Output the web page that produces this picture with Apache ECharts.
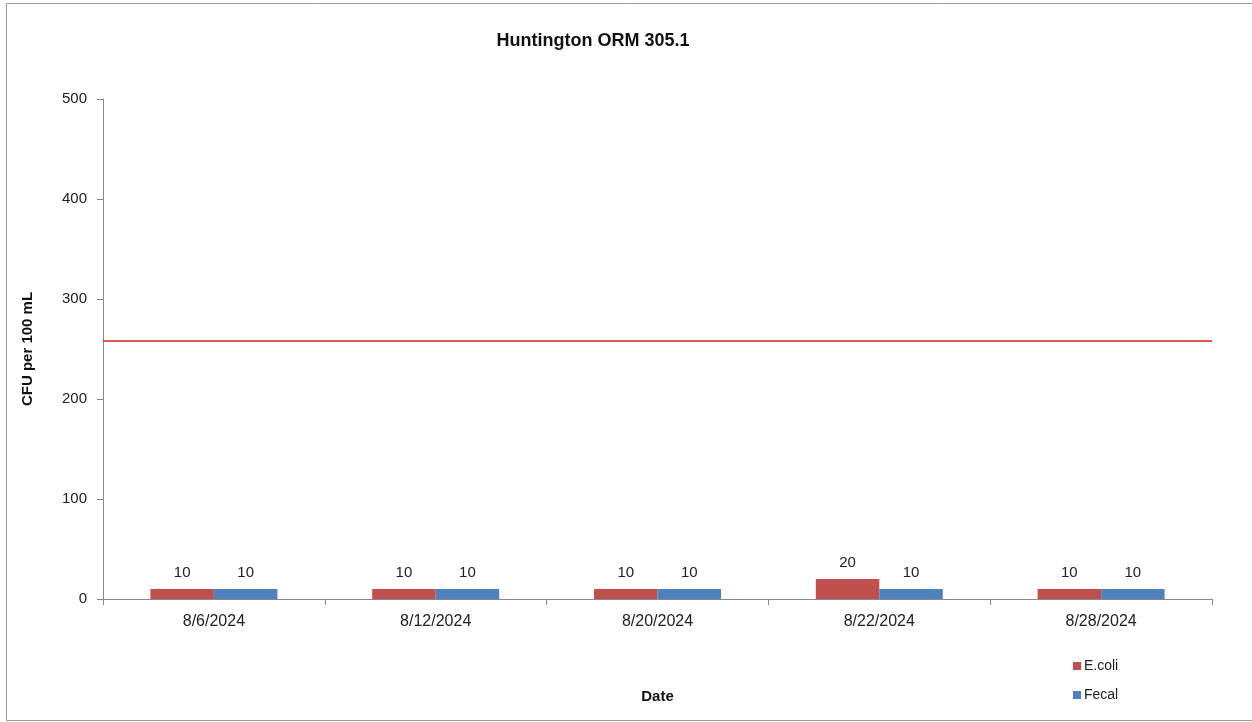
<!DOCTYPE html>
<html>
<head>
<meta charset="utf-8">
<script src="https://cdn.jsdelivr.net/npm/echarts@6/dist/echarts.min.js"></script>
<style>
  html, body { margin: 0; padding: 0; background: #fff; }
  #chart { width: 1252px; height: 722px; }
</style>
</head>
<body>
<div id="chart"></div>
<script>
// sample dates and counts (CFU per 100 mL)
const dates = ['8/6/2024', '8/12/2024', '8/20/2024', '8/22/2024', '8/28/2024'];
const ecoli = [10, 10, 10, 20, 10];
const fecal = [10, 10, 10, 10, 10];
const limit = 258;
const yTicks = { min: 0, max: 500, interval: 100 };

const font = 'Liberation Sans, Arial, sans-serif';
const txt = '#222';
const limitColor = '#D42020';

let chart = echarts.init(document.getElementById('chart'));

let labelOpt = {
    show: true,
    position: 'top',
    distance: 9,
    color: txt,
    fontFamily: font,
    fontSize: 15
};

let option = {
    animation: false,
    backgroundColor: '#fff',
    title: {
        text: 'Huntington ORM 305.1',
        left: 588,
        top: 27,
        textAlign: 'center',
        textStyle: { fontFamily: font, fontSize: 18, fontWeight: 'bold', color: '#111' }
    },
    graphic: [{
        type: 'rect',
        shape: { x: 6.5, y: 3.5, width: 1260, height: 717 },
        style: { fill: 'none', stroke: '#999', lineWidth: 1 },
        silent: true
    }],
    legend: {
        orient: 'vertical',
        left: 1068,
        top: 654,
        itemWidth: 8,
        itemHeight: 8,
        itemGap: 15,
        icon: 'rect',
        textStyle: { fontFamily: font, fontSize: 14, color: txt, padding: [0, 0, 0, -2] },
        data: ['E.coli', 'Fecal']
    },
    grid: { left: 103, right: 40, top: 99, bottom: 123 },
    xAxis: {
        type: 'category',
        data: dates,
        name: 'Date',
        nameLocation: 'middle',
        nameGap: 90,
        nameTextStyle: { fontFamily: font, fontSize: 15, fontWeight: 'bold', color: '#111' },
        axisLine: { lineStyle: { color: '#888' } },
        axisTick: { show: true, alignWithLabel: false, length: 6, lineStyle: { color: '#888' } },
        axisLabel: { fontFamily: font, fontSize: 16, color: txt, margin: 15 }
    },
    yAxis: {
        type: 'value',
        min: yTicks.min,
        max: yTicks.max,
        interval: yTicks.interval,
        name: 'CFU per 100 mL',
        nameLocation: 'middle',
        nameGap: 68,
        nameTextStyle: { fontFamily: font, fontSize: 15, fontWeight: 'bold', color: '#111' },
        axisLine: { show: true, lineStyle: { color: '#888' } },
        axisTick: { show: true, length: 6, lineStyle: { color: '#888' } },
        axisLabel: { fontFamily: font, fontSize: 15, color: txt, margin: 16 },
        splitLine: { show: false }
    },
    series: [
        {
            name: 'E.coli',
            type: 'bar',
            data: ecoli,
            barWidth: 63.5,
            barGap: '0%',
            itemStyle: { color: '#C0504D' },
            label: labelOpt,
            markLine: {
                silent: true,
                symbol: 'none',
                precision: 0,
                label: { show: false },
                emphasis: { disabled: true },
                lineStyle: { color: limitColor, width: 1.5, type: 'solid', opacity: 1 },
                data: [{ yAxis: limit }]
            }
        },
        {
            name: 'Fecal',
            type: 'bar',
            data: fecal,
            barWidth: 63.5,
            itemStyle: { color: '#4F81BD' },
            label: labelOpt
        }
    ]
};

chart.setOption(option);
</script>
</body>
</html>
